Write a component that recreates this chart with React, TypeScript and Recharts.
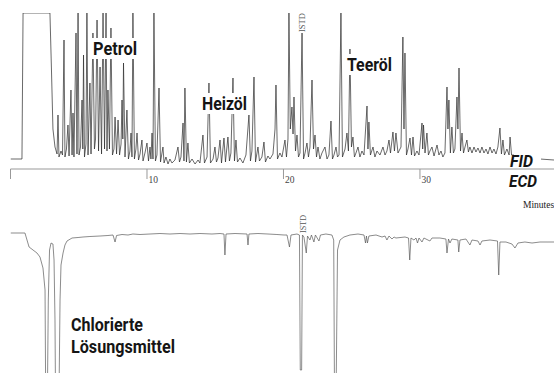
import React from 'react';
import { LineChart, Line, XAxis, YAxis } from 'recharts';

// Retention time in minutes, detector signal (arbitrary units)
const fidSolventFront: [number, number][] = [
  [0, 10], [0.84, 10], [0.92, 156], [2.82, 156], [2.89, 156], [3.0, 100], [3.11, 40], [3.26, 22], [3.41, 15],
];

const fidPetrol: [number, number][] = [
  [3.48, 54], [3.55, 12], [3.7, 18], [3.81, 14], [3.92, 129], [3.99, 12], [4.1, 20], [4.21, 44], [4.29, 13],
  [4.43, 79], [4.51, 14], [4.58, 56], [4.65, 12], [4.8, 136], [4.87, 15], [4.95, 156], [5.02, 14], [5.13, 22],
  [5.24, 69], [5.3, 20], [5.35, 114], [5.42, 12], [5.53, 25], [5.6, 156], [5.68, 14], [5.82, 86], [5.9, 15],
  [6.04, 136], [6.15, 20], [6.23, 30], [6.34, 149], [6.45, 18], [6.56, 102], [6.67, 15], [6.78, 156], [6.89, 20],
  [7.0, 156], [7.07, 18], [7.14, 79], [7.25, 20], [7.36, 141], [7.47, 14], [7.58, 20], [7.66, 52], [7.77, 15],
  [7.88, 49], [7.99, 14], [8.1, 25], [8.17, 69], [8.23, 30], [8.28, 106], [8.39, 12], [8.53, 59], [8.64, 10],
  [8.75, 18], [8.83, 36], [8.9, 12], [8.97, 156], [9.08, 10], [9.19, 20], [9.27, 36], [9.38, 9], [9.49, 15],
  [9.63, 29], [9.71, 8], [9.85, 16],
];

const fidHeizoel: [number, number][] = [
  [10.0, 26], [10.11, 8], [10.22, 22], [10.29, 10], [10.37, 36], [10.44, 10], [10.51, 156], [10.62, 8], [10.73, 14],
  [10.88, 81], [10.99, 7], [11.17, 22], [11.25, 6], [11.39, 12], [11.54, 5], [11.68, 10], [11.83, 6], [12.05, 9],
  [12.27, 22], [12.38, 7], [12.49, 12], [12.64, 46], [12.71, 8], [12.78, 81], [12.89, 7], [13.0, 26], [13.11, 6],
  [13.3, 10], [13.52, 5], [13.74, 9], [13.88, 6], [14.1, 34], [14.21, 6], [14.4, 12], [14.54, 86], [14.65, 6],
  [14.84, 10], [14.98, 22], [15.09, 7], [15.2, 11], [15.35, 29], [15.46, 6], [15.64, 31], [15.75, 7], [15.93, 32],
  [16.04, 8], [16.15, 16], [16.3, 91], [16.41, 8], [16.52, 29], [16.63, 7], [16.81, 11], [17.03, 6], [17.25, 14],
  [17.47, 54], [17.58, 8], [17.69, 18], [17.84, 92], [17.95, 7], [18.13, 22], [18.24, 8], [18.42, 12], [18.57, 27],
  [18.68, 7], [18.86, 13], [19.01, 10], [19.23, 15], [19.38, 40], [19.45, 84], [19.56, 10], [19.74, 16], [19.89, 12],
];

const fidTeeroel: [number, number][] = [
  [20.11, 29], [20.22, 12], [20.33, 30], [20.4, 156], [20.5, 40], [20.62, 62], [20.7, 35], [20.77, 72], [20.88, 18],
  [20.99, 34], [21.1, 12], [21.21, 16], [21.36, 136], [21.47, 10], [21.58, 16], [21.72, 26], [21.83, 12], [21.94, 22],
  [22.09, 89], [22.2, 20], [22.31, 34], [22.42, 12], [22.53, 22], [22.67, 10], [22.82, 16], [23.04, 22], [23.19, 10],
  [23.33, 14], [23.48, 48], [23.59, 10], [23.7, 14], [23.85, 22], [23.96, 12], [24.07, 14], [24.21, 156], [24.32, 12],
  [24.51, 20], [24.65, 36], [24.76, 18], [24.87, 120], [24.98, 22], [25.09, 32], [25.2, 12], [25.31, 16], [25.46, 22],
  [25.6, 12], [25.75, 18], [25.9, 14], [26.12, 63], [26.19, 20], [26.26, 47], [26.37, 14], [26.56, 22], [26.7, 12],
  [26.85, 18], [27.07, 14], [27.29, 22], [27.44, 14], [27.58, 18], [27.73, 29], [27.84, 16], [28.02, 37], [28.13, 18],
  [28.24, 36], [28.39, 16], [28.61, 22], [28.75, 132], [28.83, 40], [28.9, 116], [29.01, 14], [29.12, 20], [29.27, 31],
  [29.38, 14], [29.49, 32], [29.6, 13], [29.78, 18], [29.93, 14],
];

const fidLate: [number, number][] = [
  [30.15, 46], [30.2, 20], [30.26, 44], [30.37, 16], [30.51, 36], [30.62, 14], [30.73, 18], [30.88, 22], [31.03, 13],
  [31.25, 24], [31.39, 14], [31.54, 18], [31.68, 12], [31.83, 16], [31.98, 82], [32.05, 40], [32.12, 69], [32.23, 16],
  [32.34, 42], [32.45, 16], [32.56, 20], [32.71, 72], [32.78, 40], [32.86, 101], [32.97, 18], [33.08, 36], [33.19, 16],
  [33.3, 22], [33.44, 29], [33.55, 17], [33.66, 22], [33.81, 16], [33.96, 22], [34.1, 17], [34.25, 21], [34.4, 16],
  [34.54, 22], [34.69, 16], [34.84, 20], [34.98, 15], [35.13, 22], [35.28, 16], [35.42, 20], [35.57, 15], [35.71, 22],
  [35.86, 41], [35.97, 15], [36.08, 29], [36.19, 14], [36.37, 20], [36.53, 14], [36.6, 32], [36.71, 14], [36.82, 14],
  [38.79, 10], [39.82, 9],
];

const ecdFront: [number, number][] = [
  [0, 167], [1.06, 167], [1.21, 160], [1.36, 153], [1.65, 150], [1.94, 147], [2.16, 143], [2.38, 132], [2.53, 110],
  [2.58, 0], [2.7, 0], [2.77, 100], [2.86, 150], [2.97, 157], [3.11, 156], [3.19, 140], [3.26, 80], [3.3, 0],
  [3.55, 0], [3.63, 100], [3.7, 135], [3.85, 147], [3.99, 155], [4.14, 159], [4.51, 162],
];

const ecdMiddle: [number, number][] = [
  [4.95, 162.5], [5.31, 163], [5.82, 163.5], [6.56, 164], [7.14, 164.5], [7.51, 165], [7.66, 158], [7.77, 164.5],
  [8.17, 165.5], [8.61, 165], [8.97, 166], [9.49, 165.5], [10.22, 166], [10.95, 166.5], [11.68, 166], [12.42, 166.5],
  [13.15, 166], [13.88, 166.5], [14.76, 166], [15.35, 166.5], [15.64, 166], [15.71, 145], [15.79, 166], [16.45, 166.5],
  [17.33, 166], [17.4, 155], [17.47, 166], [18.13, 166.5], [18.86, 166], [19.52, 165.5], [20.04, 165], [20.26, 165],
  [20.44, 153], [20.55, 165], [20.99, 166], [21.17, 165], [21.23, 30], [21.33, 30], [21.39, 165], [21.5, 163],
  [21.67, 147], [21.76, 164], [21.94, 160], [22.05, 165], [22.23, 158], [22.34, 165], [22.6, 159], [22.71, 165],
  [23.11, 166], [23.55, 165], [23.68, 160], [23.74, 0], [23.85, 0], [23.96, 150], [24.14, 160], [24.43, 163],
  [24.87, 165], [25.46, 166],
];

const ecdTail: [number, number][] = [
  [25.9, 165], [26.01, 157], [26.08, 164], [26.15, 157], [26.26, 164], [26.78, 165], [27.22, 163], [27.44, 164],
  [27.58, 160], [27.73, 164], [27.95, 161], [28.1, 163], [28.24, 162], [28.9, 163], [29.16, 162], [29.25, 140],
  [29.34, 162], [29.56, 160], [29.71, 162], [29.82, 157], [29.93, 162], [30.15, 158], [30.29, 162], [30.73, 159],
  [30.88, 162], [31.46, 162], [31.9, 161], [31.98, 147], [32.09, 161], [32.2, 157], [32.34, 161], [32.78, 160],
  [32.84, 148], [32.93, 160], [33.37, 161], [33.66, 155], [33.81, 160], [34.25, 159], [34.4, 155], [34.54, 159],
  [35.13, 160], [35.68, 159], [35.77, 125], [35.86, 158], [36.3, 158], [36.74, 156], [36.96, 152], [37.18, 157],
  [37.69, 158], [38.21, 157], [38.79, 158], [39.38, 158], [39.82, 158],
];

const minuteTicks = [0, 10, 20, 30];
const X_DOMAIN: [number, number] = [0, 39.82];

const toRows = (parts: [number, number][][]) =>
  parts.flat().map(([t, v]) => ({ t, v }));

const fidData = toRows([fidSolventFront, fidPetrol, fidHeizoel, fidTeeroel, fidLate]);
const ecdData = toRows([ecdFront, ecdMiddle, ecdTail]);

const MinuteTick = (props: any) => {
  const { x, y, payload } = props;
  if (payload.value === 0) return null;
  return (
    <text x={x + 1.5} y={y + 2} fontFamily="'Liberation Serif', 'DejaVu Serif', serif" fontSize={9.5} fill="#444" textAnchor="start">
      {payload.value}
    </text>
  );
};

const boldLabel = {
  fontFamily: "Roboto, 'Liberation Sans', sans-serif",
  fontWeight: 700,
  fill: '#151515',
} as const;

export default function App() {
  return (
    <div style={{ position: 'absolute', left: 0, top: 0, width: 554, height: 373, overflow: 'hidden', background: '#fff' }}>
      <div style={{ position: 'absolute', left: 0, top: 0 }}>
        <LineChart width={554} height={190} data={fidData} margin={{ top: 13, right: 0, left: 10.5, bottom: 0 }}>
          <XAxis
            type="number"
            dataKey="t"
            domain={X_DOMAIN}
            allowDataOverflow
            ticks={minuteTicks}
            height={21}
            tickSize={10}
            tickMargin={2}
            axisLine={{ stroke: '#999', strokeWidth: 1 }}
            tickLine={{ stroke: '#999', strokeWidth: 1 }}
            tick={<MinuteTick />}
            interval={0}
          />
          <YAxis hide domain={[0, 156]} allowDataOverflow />
          <Line type="linear" dataKey="v" stroke="#2a2a2a" strokeWidth={0.7} dot={false} isAnimationActive={false} />
        </LineChart>
      </div>
      <div style={{ position: 'absolute', left: 0, top: 200 }}>
        <LineChart width={554} height={200} data={ecdData} margin={{ top: 0, right: 0, left: 10.5, bottom: 0 }}>
          <XAxis type="number" dataKey="t" domain={X_DOMAIN} allowDataOverflow hide />
          <YAxis hide domain={[0, 200]} allowDataOverflow />
          <Line type="linear" dataKey="v" stroke="#5a5a5a" strokeWidth={0.7} dot={false} isAnimationActive={false} />
        </LineChart>
      </div>
      <svg width={554} height={373} style={{ position: 'absolute', left: 0, top: 0 }}>
        <rect x={90} y={38} width={50} height={21} fill="#fff" />
        <text x={93} y={54.5} fontSize={18} textLength={44} lengthAdjust="spacingAndGlyphs" {...boldLabel}>Petrol</text>
        <rect x={199} y={93} width={51} height={21} fill="#fff" />
        <text x={202} y={110} fontSize={18} textLength={45} lengthAdjust="spacingAndGlyphs" {...boldLabel}>Heizöl</text>
        <rect x={344} y={54} width={51} height={21} fill="#fff" />
        <text x={347} y={71} fontSize={18} textLength={45} lengthAdjust="spacingAndGlyphs" {...boldLabel}>Teeröl</text>
        <rect x={514} y={149} width={27} height={18} fill="#fff" />
        <text x={510} y={167} fontSize={17} fontStyle="italic" textLength={23} lengthAdjust="spacingAndGlyphs" {...boldLabel}>FID</text>
        <text x={509} y={187} fontSize={17} fontStyle="italic" textLength={28} lengthAdjust="spacingAndGlyphs" {...boldLabel}>ECD</text>
        <text x={71} y={331} fontSize={19} textLength={72} lengthAdjust="spacingAndGlyphs" {...boldLabel}>Chlorierte</text>
        <text x={71} y={353} fontSize={19} textLength={104} lengthAdjust="spacingAndGlyphs" {...boldLabel}>Lösungsmittel</text>
        <text transform="translate(304.5,32) rotate(-90)" fontSize={8.5} textLength={19} lengthAdjust="spacingAndGlyphs" fontFamily="'Liberation Serif', serif" fill="#555">ISTD</text>
        <text transform="translate(306,233) rotate(-90)" fontSize={8.5} textLength={18} lengthAdjust="spacingAndGlyphs" fontFamily="'Liberation Serif', serif" fill="#555">ISTD</text>
        <text x={523} y={208} fontSize={9.5} fontFamily="'Liberation Serif', serif" fill="#222">Minutes</text>
      </svg>
    </div>
  );
}
